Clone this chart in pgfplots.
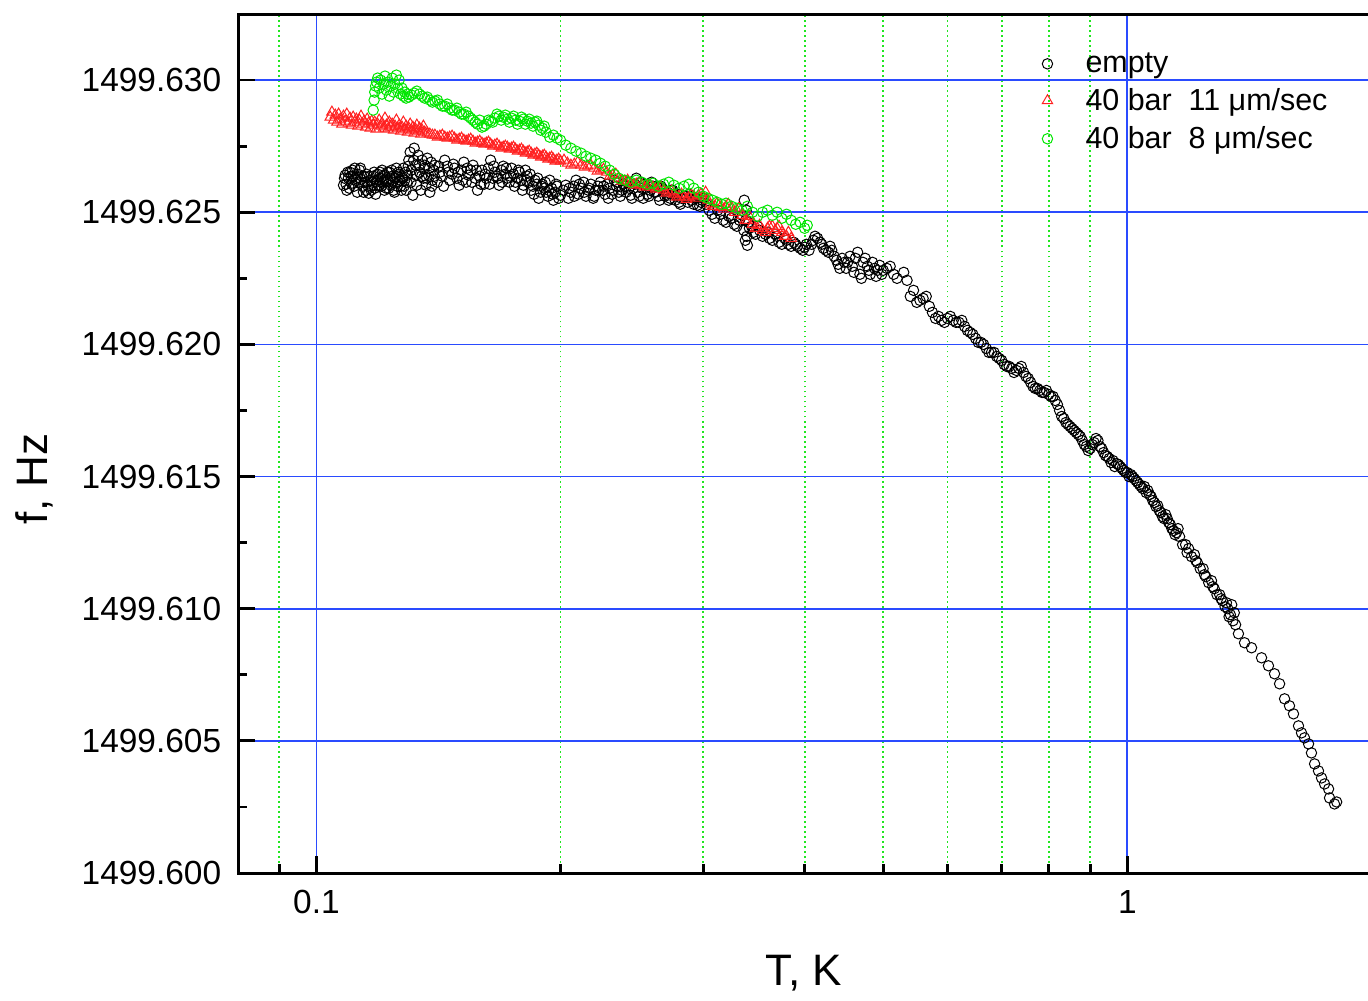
\documentclass[border=0pt]{standalone}
\usepackage{fontspec}
\setmainfont{Liberation Sans}
\usepackage{pgfplots}
\pgfplotsset{compat=1.18}
\usepackage{pgfplotstable}
\usetikzlibrary{calc}
\definecolor{gridblue}{HTML}{2A4BFF}
\definecolor{gridgreen}{HTML}{20E620}
\definecolor{ptred}{HTML}{FF2020}
\definecolor{ptgreen}{HTML}{00E600}

% empty cell
\pgfplotstableread{
T f
0.1080 1499.626023
0.1083 1499.626288
0.1085 1499.626402
0.1088 1499.626061
0.1090 1499.625833
0.1093 1499.626515
0.1095 1499.626288
0.1098 1499.625909
0.1100 1499.626515
0.1103 1499.626364
0.1105 1499.626098
0.1108 1499.626591
0.1110 1499.626364
0.1113 1499.625985
0.1115 1499.626667
0.1118 1499.626288
0.1120 1499.626212
0.1123 1499.625758
0.1125 1499.626439
0.1128 1499.626136
0.1130 1499.626591
0.1133 1499.626667
0.1135 1499.626250
0.1138 1499.626364
0.1140 1499.625985
0.1143 1499.625758
0.1145 1499.626364
0.1148 1499.626136
0.1150 1499.625833
0.1153 1499.626439
0.1155 1499.626136
0.1158 1499.625985
0.1160 1499.625720
0.1163 1499.626364
0.1165 1499.626212
0.1168 1499.625833
0.1170 1499.625985
0.1173 1499.626136
0.1175 1499.626364
0.1178 1499.626515
0.1180 1499.625909
0.1183 1499.625682
0.1185 1499.626136
0.1188 1499.626212
0.1190 1499.626439
0.1193 1499.625985
0.1195 1499.626023
0.1198 1499.626515
0.1200 1499.626288
0.1203 1499.625985
0.1205 1499.626591
0.1208 1499.626364
0.1210 1499.626136
0.1213 1499.625833
0.1215 1499.626402
0.1218 1499.626136
0.1220 1499.625909
0.1223 1499.626515
0.1225 1499.626212
0.1228 1499.625909
0.1230 1499.626515
0.1233 1499.626288
0.1235 1499.626023
0.1238 1499.626591
0.1240 1499.626364
0.1243 1499.626136
0.1245 1499.625833
0.1248 1499.625758
0.1250 1499.626288
0.1253 1499.626364
0.1255 1499.626667
0.1258 1499.625985
0.1260 1499.626136
0.1263 1499.626515
0.1265 1499.626439
0.1268 1499.626212
0.1270 1499.625985
0.1273 1499.625833
0.1275 1499.626364
0.1278 1499.626288
0.1280 1499.626667
0.1283 1499.625985
0.1285 1499.626212
0.1288 1499.626515
0.1290 1499.625833
0.1293 1499.626136
0.1295 1499.626402
0.1298 1499.626742
0.1300 1499.626970
0.1305 1499.627273
0.1308 1499.626136
0.1310 1499.626591
0.1315 1499.625644
0.1318 1499.626970
0.1320 1499.627424
0.1325 1499.626780
0.1328 1499.626402
0.1330 1499.626023
0.1335 1499.627159
0.1338 1499.626780
0.1340 1499.626515
0.1345 1499.625833
0.1348 1499.626364
0.1350 1499.626970
0.1355 1499.626288
0.1358 1499.626667
0.1360 1499.626780
0.1365 1499.626023
0.1368 1499.626288
0.1370 1499.627045
0.1375 1499.626402
0.1378 1499.626667
0.1380 1499.625758
0.1385 1499.626894
0.1388 1499.625985
0.1390 1499.626212
0.1395 1499.626591
0.1398 1499.626364
0.1400 1499.626780
0.141 1499.626136
0.1415 1499.626742
0.142 1499.626515
0.143 1499.626364
0.1435 1499.625985
0.144 1499.626970
0.145 1499.626742
0.1455 1499.626515
0.146 1499.626212
0.147 1499.626439
0.1475 1499.626818
0.148 1499.626667
0.149 1499.626288
0.1495 1499.626515
0.150 1499.626023
0.151 1499.626591
0.1515 1499.626212
0.152 1499.626894
0.153 1499.626136
0.1535 1499.626667
0.154 1499.626402
0.155 1499.626591
0.1555 1499.626136
0.156 1499.626780
0.157 1499.626288
0.1575 1499.626591
0.158 1499.625833
0.159 1499.626364
0.1595 1499.626061
0.160 1499.626591
0.161 1499.626061
0.1615 1499.626439
0.162 1499.626288
0.163 1499.626667
0.1635 1499.626061
0.164 1499.626970
0.165 1499.626288
0.1655 1499.626742
0.166 1499.626515
0.167 1499.626364
0.1675 1499.626288
0.168 1499.626023
0.169 1499.626591
0.1695 1499.626136
0.170 1499.626742
0.171 1499.626439
0.1715 1499.626667
0.172 1499.626288
0.173 1499.626136
0.1735 1499.626364
0.174 1499.626667
0.175 1499.626439
0.1755 1499.625985
0.176 1499.626136
0.177 1499.626288
0.1775 1499.626591
0.178 1499.626515
0.179 1499.626212
0.1795 1499.625833
0.180 1499.626023
0.181 1499.626591
0.1815 1499.626212
0.182 1499.626364
0.183 1499.626136
0.1835 1499.626439
0.184 1499.625833
0.185 1499.625985
0.1855 1499.625682
0.186 1499.626212
0.187 1499.626061
0.1875 1499.626288
0.188 1499.625530
0.189 1499.625758
0.1895 1499.625985
0.190 1499.626061
0.191 1499.625909
0.1915 1499.626136
0.192 1499.625758
0.193 1499.625606
0.1935 1499.625833
0.194 1499.626212
0.195 1499.625909
0.1955 1499.625682
0.196 1499.625455
0.197 1499.625758
0.1975 1499.626061
0.198 1499.625985
0.199 1499.625530
0.200 1499.625644
0.2015 1499.625833
0.203 1499.626023
0.2045 1499.625530
0.205 1499.625909
0.206 1499.625758
0.2075 1499.625985
0.208 1499.625606
0.209 1499.626212
0.2105 1499.625682
0.211 1499.626061
0.212 1499.625909
0.2135 1499.626136
0.214 1499.625758
0.215 1499.625606
0.2165 1499.625833
0.217 1499.625909
0.218 1499.626061
0.2195 1499.625530
0.220 1499.625606
0.221 1499.625833
0.2225 1499.625985
0.223 1499.625833
0.224 1499.626136
0.2255 1499.625833
0.226 1499.625985
0.227 1499.625682
0.2285 1499.626061
0.229 1499.625530
0.230 1499.625909
0.2315 1499.625682
0.232 1499.625833
0.233 1499.626212
0.2345 1499.625985
0.235 1499.626136
0.236 1499.625758
0.237 1499.625606
0.238 1499.625833
0.239 1499.626061
0.240 1499.625985
0.241 1499.625758
0.242 1499.626136
0.243 1499.625909
0.244 1499.625644
0.245 1499.625530
0.246 1499.625909
0.247 1499.626061
0.248 1499.626288
0.249 1499.625758
0.250 1499.625606
0.251 1499.626136
0.252 1499.625909
0.253 1499.625530
0.254 1499.626061
0.255 1499.625909
0.256 1499.625682
0.257 1499.625606
0.258 1499.625833
0.259 1499.626136
0.260 1499.625985
0.261 1499.625758
0.262 1499.625758
0.263 1499.625985
0.264 1499.625606
0.265 1499.625455
0.266 1499.625985
0.267 1499.625909
0.268 1499.625833
0.269 1499.625606
0.270 1499.625682
0.271 1499.625758
0.272 1499.625455
0.273 1499.625530
0.274 1499.625833
0.275 1499.625833
0.276 1499.625682
0.277 1499.625455
0.278 1499.625606
0.279 1499.625682
0.280 1499.625379
0.281 1499.625303
0.282 1499.625530
0.284 1499.625530
0.285 1499.625606
0.287 1499.625379
0.288 1499.625682
0.289 1499.625606
0.290 1499.625455
0.292 1499.625303
0.293 1499.625530
0.294 1499.625530
0.295 1499.625265
0.297 1499.625227
0.298 1499.625379
0.299 1499.625455
0.300 1499.625530
0.3025 1499.625303
0.305 1499.625076
0.3075 1499.624924
0.310 1499.624773
0.3125 1499.625076
0.315 1499.624924
0.3175 1499.624697
0.320 1499.624621
0.3225 1499.624848
0.325 1499.624773
0.3275 1499.624545
0.330 1499.624470
0.3325 1499.624697
0.335 1499.624886
0.3365 1499.624318
0.337 1499.625455
0.338 1499.623939
0.3385 1499.624697
0.339 1499.625076
0.3395 1499.624091
0.340 1499.623750
0.341 1499.624621
0.342 1499.624394
0.344 1499.624470
0.346 1499.624242
0.348 1499.624167
0.350 1499.624470
0.352 1499.624318
0.355 1499.624091
0.358 1499.624167
0.360 1499.624242
0.362 1499.624015
0.365 1499.623939
0.368 1499.624167
0.370 1499.624091
0.372 1499.623864
0.375 1499.623788
0.378 1499.624015
0.380 1499.623939
0.382 1499.623788
0.385 1499.623712
0.388 1499.623864
0.390 1499.623788
0.392 1499.623712
0.395 1499.623636
0.398 1499.623561
0.400 1499.623674
0.402 1499.623788
0.405 1499.623561
0.408 1499.623788
0.410 1499.623939
0.412 1499.624091
0.415 1499.624015
0.418 1499.623864
0.420 1499.623788
0.422 1499.623636
0.425 1499.623561
0.428 1499.623485
0.430 1499.623712
0.432 1499.623561
0.435 1499.623333
0.438 1499.623182
0.440 1499.623030
0.442 1499.622879
0.445 1499.623258
0.448 1499.623106
0.450 1499.622879
0.452 1499.623106
0.455 1499.623333
0.458 1499.622955
0.460 1499.622727
0.462 1499.623258
0.465 1499.623485
0.468 1499.622652
0.470 1499.622500
0.472 1499.623106
0.475 1499.623258
0.478 1499.622955
0.480 1499.622803
0.482 1499.622652
0.485 1499.623106
0.488 1499.622879
0.490 1499.622576
0.492 1499.622803
0.495 1499.622992
0.498 1499.622652
0.500 1499.622803
0.505 1499.622879
0.51 1499.622955
0.515 1499.622652
0.52 1499.622500
0.53 1499.622727
0.535 1499.622424
0.54 1499.621818
0.545 1499.622045
0.55 1499.621591
0.555 1499.621667
0.56 1499.621742
0.565 1499.621818
0.57 1499.621439
0.575 1499.621212
0.58 1499.620985
0.585 1499.621061
0.59 1499.620909
0.595 1499.620833
0.60 1499.620985
0.605 1499.621061
0.61 1499.620909
0.615 1499.620833
0.62 1499.620833
0.625 1499.620909
0.63 1499.620682
0.635 1499.620530
0.64 1499.620455
0.645 1499.620379
0.65 1499.620227
0.655 1499.620076
0.66 1499.620076
0.665 1499.620000
0.67 1499.619848
0.675 1499.619697
0.68 1499.619697
0.685 1499.619697
0.69 1499.619545
0.695 1499.619470
0.70 1499.619394
0.705 1499.619242
0.71 1499.619167
0.715 1499.619167
0.72 1499.619091
0.725 1499.618939
0.73 1499.619015
0.735 1499.619091
0.74 1499.619167
0.745 1499.618939
0.75 1499.618788
0.755 1499.618712
0.76 1499.618561
0.765 1499.618409
0.77 1499.618333
0.775 1499.618333
0.78 1499.618258
0.785 1499.618182
0.79 1499.618182
0.795 1499.618258
0.80 1499.618106
0.805 1499.618030
0.81 1499.618030
0.815 1499.617879
0.82 1499.617727
0.825 1499.617500
0.83 1499.617273
0.835 1499.617197
0.84 1499.617045
0.845 1499.616970
0.85 1499.616894
0.855 1499.616818
0.86 1499.616742
0.865 1499.616667
0.87 1499.616591
0.875 1499.616515
0.88 1499.616364
0.885 1499.616212
0.89 1499.616136
0.895 1499.615985
0.90 1499.616061
0.905 1499.616212
0.91 1499.616288
0.915 1499.616439
0.92 1499.616364
0.925 1499.616136
0.93 1499.616061
0.935 1499.615909
0.94 1499.615795
0.945 1499.615758
0.95 1499.615682
0.955 1499.615530
0.96 1499.615606
0.965 1499.615379
0.97 1499.615492
0.975 1499.615455
0.98 1499.615379
0.985 1499.615303
0.99 1499.615227
0.995 1499.615152
1.00 1499.615152
1.005 1499.615000
1.01 1499.615076
1.015 1499.615000
1.02 1499.614924
1.025 1499.614848
1.03 1499.614773
1.035 1499.614697
1.04 1499.614621
1.045 1499.614545
1.05 1499.614621
1.055 1499.614394
1.06 1499.614470
1.065 1499.614318
1.07 1499.614242
1.075 1499.614091
1.08 1499.614015
1.085 1499.613864
1.09 1499.613902
1.095 1499.613712
1.10 1499.613636
1.105 1499.613485
1.11 1499.613409
1.115 1499.613561
1.12 1499.613409
1.125 1499.613258
1.13 1499.613182
1.135 1499.613030
1.14 1499.612955
1.145 1499.612803
1.15 1499.612879
1.155 1499.613030
1.16 1499.612727
1.17 1499.612424
1.18 1499.612424
1.185 1499.612121
1.19 1499.612273
1.20 1499.611970
1.21 1499.612045
1.215 1499.611818
1.22 1499.611742
1.23 1499.611515
1.24 1499.611515
1.245 1499.611288
1.25 1499.611212
1.26 1499.610985
1.27 1499.611061
1.275 1499.610833
1.28 1499.610758
1.29 1499.610530
1.30 1499.610530
1.305 1499.610379
1.31 1499.610303
1.32 1499.610076
1.325 1499.610227
1.33 1499.610000
1.335 1499.609697
1.34 1499.609773
1.345 1499.610152
1.35 1499.609545
1.355 1499.609848
1.36 1499.609394
1.371 1499.609053
1.395 1499.608712
1.423 1499.608523
1.464 1499.608144
1.493 1499.607841
1.519 1499.607538
1.541 1499.607159
1.563 1499.606591
1.585 1499.606326
1.603 1499.606023
1.626 1499.605568
1.640 1499.605303
1.654 1499.605114
1.673 1499.604886
1.687 1499.604545
1.702 1499.604129
1.721 1499.603864
1.736 1499.603598
1.751 1499.603371
1.771 1499.603182
1.776 1499.602841
1.801 1499.602614
1.812 1499.602689
}\tblempty

% 40 bar, 11 um/sec
\pgfplotstableread{
T f
0.1040 1499.628598
0.1045 1499.628788
0.1050 1499.628485
0.1055 1499.628674
0.1060 1499.628409
0.1065 1499.628712
0.1070 1499.628523
0.1075 1499.628333
0.1080 1499.628636
0.1085 1499.628447
0.1090 1499.628712
0.1095 1499.628371
0.1100 1499.628561
0.1105 1499.628295
0.1110 1499.628598
0.1115 1499.628409
0.1120 1499.628523
0.1125 1499.628258
0.1130 1499.628485
0.1135 1499.628636
0.1140 1499.628333
0.1145 1499.628447
0.1150 1499.628220
0.1155 1499.628523
0.1160 1499.628371
0.1165 1499.628182
0.1170 1499.628447
0.1175 1499.628295
0.1180 1499.628409
0.1185 1499.628144
0.1190 1499.628333
0.1195 1499.628485
0.1200 1499.628258
0.1205 1499.628371
0.1210 1499.628182
0.1215 1499.628561
0.1220 1499.628295
0.1225 1499.628144
0.1230 1499.628409
0.1235 1499.628220
0.1240 1499.628333
0.1245 1499.628106
0.1250 1499.628258
0.1255 1499.628485
0.1260 1499.628182
0.1265 1499.628295
0.1270 1499.628068
0.1275 1499.628220
0.1280 1499.628409
0.1285 1499.628144
0.1290 1499.628258
0.1295 1499.628030
0.1300 1499.628182
0.1305 1499.628333
0.1310 1499.628106
0.1315 1499.628220
0.1320 1499.627992
0.1325 1499.628144
0.1330 1499.628295
0.1335 1499.628068
0.1340 1499.628182
0.1345 1499.627955
0.1350 1499.628106
0.1355 1499.628258
0.1360 1499.628030
0.1370 1499.627992
0.1380 1499.627955
0.1390 1499.627917
0.1400 1499.627917
0.141 1499.627841
0.142 1499.627879
0.143 1499.627917
0.144 1499.627841
0.145 1499.627803
0.146 1499.627841
0.147 1499.627879
0.148 1499.627803
0.149 1499.627727
0.150 1499.627765
0.151 1499.627803
0.152 1499.627727
0.153 1499.627689
0.154 1499.627727
0.155 1499.627765
0.156 1499.627689
0.157 1499.627614
0.158 1499.627652
0.159 1499.627689
0.160 1499.627614
0.161 1499.627576
0.162 1499.627614
0.163 1499.627652
0.164 1499.627576
0.165 1499.627500
0.166 1499.627538
0.167 1499.627576
0.168 1499.627500
0.169 1499.627424
0.170 1499.627462
0.171 1499.627500
0.172 1499.627462
0.173 1499.627386
0.174 1499.627424
0.175 1499.627462
0.176 1499.627386
0.177 1499.627311
0.178 1499.627348
0.179 1499.627386
0.180 1499.627311
0.181 1499.627235
0.182 1499.627273
0.183 1499.627311
0.184 1499.627235
0.185 1499.627159
0.186 1499.627197
0.187 1499.627235
0.188 1499.627159
0.189 1499.627083
0.190 1499.627121
0.191 1499.627159
0.192 1499.627083
0.193 1499.627008
0.194 1499.627045
0.195 1499.627083
0.196 1499.627008
0.197 1499.626932
0.198 1499.626970
0.199 1499.627008
0.200 1499.626932
0.202 1499.626970
0.204 1499.626856
0.206 1499.626780
0.208 1499.626818
0.210 1499.626894
0.212 1499.626780
0.214 1499.626705
0.216 1499.626742
0.218 1499.626780
0.220 1499.626667
0.222 1499.626553
0.224 1499.626591
0.226 1499.626629
0.228 1499.626515
0.230 1499.626364
0.232 1499.626402
0.234 1499.626439
0.236 1499.626288
0.238 1499.626174
0.240 1499.626174
0.242 1499.626212
0.244 1499.626098
0.246 1499.626023
0.248 1499.626061
0.250 1499.626098
0.252 1499.626023
0.254 1499.625947
0.256 1499.625985
0.258 1499.626023
0.260 1499.625947
0.262 1499.625871
0.264 1499.625909
0.266 1499.625947
0.268 1499.625833
0.270 1499.625720
0.272 1499.625758
0.274 1499.625795
0.276 1499.625682
0.278 1499.625568
0.280 1499.625606
0.282 1499.625682
0.284 1499.625568
0.286 1499.625492
0.288 1499.625568
0.290 1499.625644
0.292 1499.625606
0.294 1499.625530
0.296 1499.625644
0.298 1499.625682
0.300 1499.625606
0.302 1499.625758
0.304 1499.625455
0.306 1499.625303
0.308 1499.625227
0.310 1499.625227
0.312 1499.625341
0.315 1499.625189
0.318 1499.625114
0.320 1499.625227
0.322 1499.625303
0.325 1499.625189
0.328 1499.625000
0.330 1499.625076
0.332 1499.625152
0.335 1499.624886
0.338 1499.624697
0.340 1499.624697
0.342 1499.624848
0.345 1499.624545
0.348 1499.624394
0.350 1499.624394
0.352 1499.624508
0.355 1499.624318
0.358 1499.624242
0.360 1499.624394
0.362 1499.624470
0.365 1499.624470
0.368 1499.624318
0.370 1499.624394
0.372 1499.624470
0.375 1499.624242
0.378 1499.624091
0.380 1499.624091
0.382 1499.624242
0.385 1499.624015
}\tblred

% 40 bar, 8 um/sec
\pgfplotstableread{
T f
0.1175 1499.628864
0.1178 1499.629242
0.1180 1499.629545
0.1183 1499.629773
0.1186 1499.629924
0.1190 1499.630076
0.1195 1499.629697
0.1200 1499.630000
0.1205 1499.629470
0.1210 1499.629848
0.1215 1499.630152
0.1220 1499.629621
0.1225 1499.629924
0.1230 1499.629394
0.1235 1499.629773
0.1240 1499.630076
0.1245 1499.629545
0.1250 1499.629848
0.1255 1499.630189
0.1260 1499.629697
0.1265 1499.630000
0.1270 1499.629470
0.1275 1499.629697
0.1280 1499.629394
0.1285 1499.629545
0.1290 1499.629318
0.1295 1499.629470
0.1300 1499.629356
0.1310 1499.629432
0.1320 1499.629508
0.1330 1499.629583
0.1340 1499.629470
0.1350 1499.629394
0.1360 1499.629318
0.1370 1499.629356
0.1380 1499.629242
0.1390 1499.629167
0.1400 1499.629205
0.141 1499.629242
0.1420 1499.629091
0.143 1499.629015
0.1440 1499.629015
0.145 1499.629091
0.1460 1499.628939
0.147 1499.628864
0.1480 1499.628864
0.149 1499.628939
0.1500 1499.628788
0.151 1499.628712
0.1520 1499.628712
0.153 1499.628788
0.1540 1499.628636
0.155 1499.628561
0.1560 1499.628485
0.157 1499.628409
0.1580 1499.628333
0.159 1499.628485
0.1600 1499.628220
0.161 1499.628258
0.1620 1499.628333
0.163 1499.628485
0.1640 1499.628447
0.165 1499.628409
0.1660 1499.628561
0.167 1499.628712
0.1680 1499.628636
0.169 1499.628485
0.1700 1499.628598
0.171 1499.628674
0.1720 1499.628523
0.173 1499.628409
0.1740 1499.628561
0.175 1499.628636
0.1760 1499.628485
0.177 1499.628333
0.1780 1499.628447
0.179 1499.628598
0.1800 1499.628523
0.181 1499.628333
0.1820 1499.628447
0.183 1499.628523
0.1840 1499.628371
0.185 1499.628258
0.1860 1499.628409
0.187 1499.628447
0.1880 1499.628295
0.189 1499.628106
0.1900 1499.628182
0.191 1499.628258
0.1920 1499.628030
0.1940 1499.627841
0.1960 1499.627917
0.1980 1499.627803
0.2000 1499.627727
0.2030 1499.627538
0.2060 1499.627424
0.2090 1499.627311
0.2120 1499.627235
0.2150 1499.627121
0.2180 1499.627045
0.2210 1499.626970
0.2240 1499.626856
0.2270 1499.626742
0.2300 1499.626591
0.2330 1499.626439
0.2360 1499.626288
0.2400 1499.626212
0.2440 1499.626136
0.2480 1499.626212
0.2520 1499.626136
0.2560 1499.626061
0.2600 1499.626098
0.2640 1499.625985
0.2680 1499.626061
0.2720 1499.626136
0.2760 1499.626023
0.2800 1499.625909
0.2840 1499.625985
0.2880 1499.626061
0.2920 1499.625909
0.2960 1499.625758
0.3000 1499.625606
0.3040 1499.625530
0.3080 1499.625455
0.3120 1499.625379
0.3160 1499.625303
0.3200 1499.625341
0.3250 1499.625227
0.3300 1499.625152
0.3350 1499.625076
0.3400 1499.625227
0.3450 1499.625000
0.3500 1499.624848
0.3550 1499.625000
0.3600 1499.625076
0.3650 1499.624886
0.3700 1499.625000
0.3750 1499.624773
0.3800 1499.624924
0.3850 1499.624697
0.3900 1499.624545
0.3950 1499.624621
0.4000 1499.624394
0.4030 1499.624508
}\tblgreen

\begin{document}
\begin{tikzpicture}
\begin{axis}[
  name=ax, at={(0,0)}, anchor=south west,
  scale only axis, width=565pt, height=429pt,
  xmode=log, xmin=0.0801, xmax=1.99,
  % the frequencies differ only in the 5th decimal: shift them exactly before pgf's float math sees them
  y coord trafo/.code={\edef\pgfmathresult{\fpeval{#1-1499.6}}},
  ymin=1499.600, ymax=1499.6325,
  ytick={1499.600,1499.605,1499.610,1499.615,1499.620,1499.625,1499.630},
  yticklabels={1499.600,1499.605,1499.610,1499.615,1499.620,1499.625,1499.630},
  scaled y ticks=false,
  minor y tick num=1,
  xtick={0.1,1}, xticklabels={0.1,1},
  minor xtick={0.09,0.2,0.3,0.4,0.5,0.6,0.7,0.8,0.9,2},
  xmajorgrids, ymajorgrids, xminorgrids,
  major grid style={gridblue, line width=0.85pt},
  minor grid style={gridgreen, line width=0.9pt, dash pattern=on 0.9pt off 1.6pt},
  tick align=inside, tick pos=left,
  major tick length=8.5pt, minor tick length=4.5pt,
  every tick/.style={black, line width=1.4pt},
  axis line style={line width=1.5pt},
  tick label style={font=\fontsize{16.7}{19}\selectfont},
  yticklabel style={xshift=-5pt},
  xticklabel style={yshift=-5pt},
  xlabel={T, K}, ylabel={f, Hz},
  label style={font=\fontsize{22}{25}\selectfont},
  xlabel style={at={(axis description cs:0.5,-0.117)}, anchor=center},
  ylabel style={at={(axis description cs:-0.18,0.459)}, anchor=center},
  legend style={at={(0.705,0.965)}, anchor=north west, draw=none, fill=none,
    font=\fontsize{15.2}{17}\selectfont, row sep=2.5pt},
  legend cell align=left,
  legend image code/.code={\draw[#1] plot coordinates {(0pt,0pt)}; \path[draw=none] (0pt,0pt) (17pt,0pt);},
]
\addplot[only marks, mark=o, mark size=2.6pt, black, mark options={line width=0.5pt}] table[x=T, y=f] {\tblempty};
\addplot[only marks, mark=triangle, mark size=3pt, ptred, mark options={line width=0.5pt}] table[x=T, y=f] {\tblred};
\addplot[only marks, mark=o, mark size=2.6pt, ptgreen, mark options={line width=0.5pt}] table[x=T, y=f] {\tblgreen};
\legend{empty, 40 bar\ \ 11 μm/sec, 40 bar\ \ 8 μm/sec}
\end{axis}
\pgfresetboundingbox
\path[use as bounding box] ($(ax.south west)+(-119pt,-63.5pt)$) rectangle ($(ax.north east)+(-0.8pt,7pt)$);
\end{tikzpicture}
\end{document}
